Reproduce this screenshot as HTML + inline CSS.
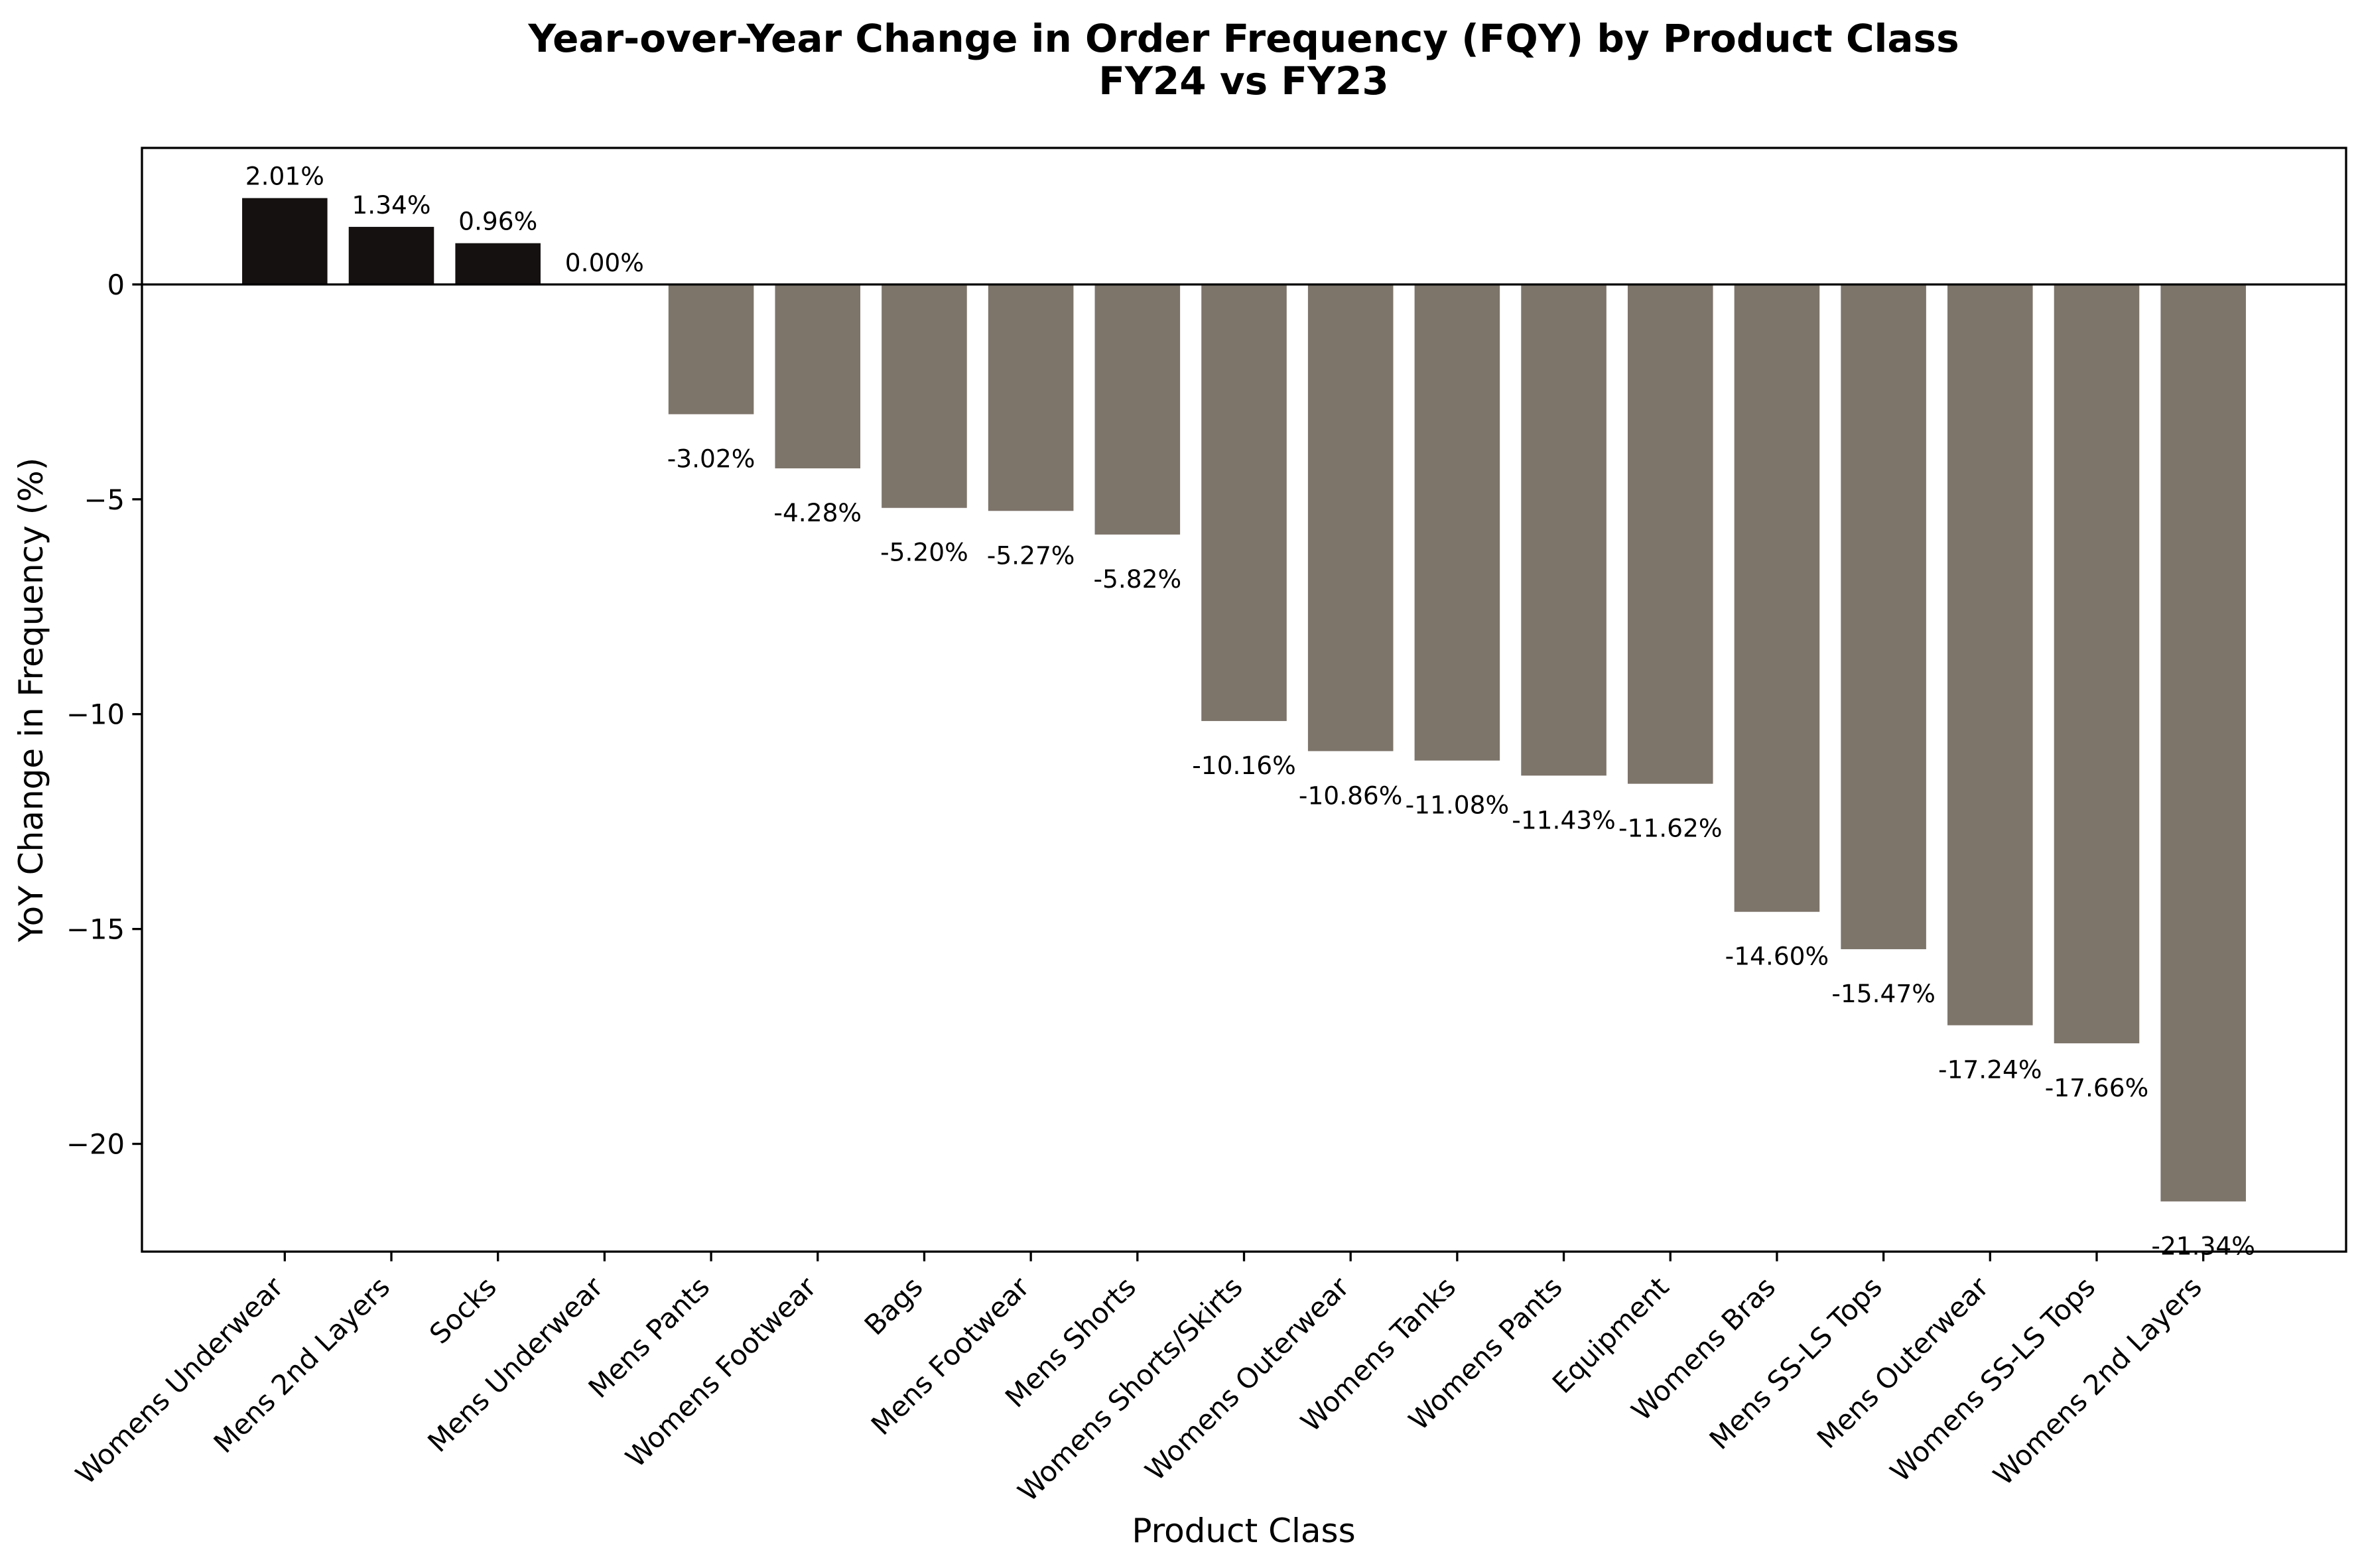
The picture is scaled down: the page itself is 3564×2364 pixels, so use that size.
<!DOCTYPE html>
<html><head><meta charset="utf-8"><style>
html,body{margin:0;padding:0;background:#fff}
svg{display:block;font-family:"DejaVu Sans","Liberation Sans",sans-serif}
</style></head><body>
<svg id="chart" width="3564" height="2364" viewBox="0 0 3564 2364" xmlns="http://www.w3.org/2000/svg">
<rect width="3564" height="2364" fill="#fff"/>
<text x="1875" y="78" font-size="58" font-weight="bold" text-anchor="middle">Year-over-Year Change in Order Frequency (FQY) by Product Class</text>
<text x="1875" y="142" font-size="58" font-weight="bold" text-anchor="middle">FY24 vs FY23</text>
<text transform="translate(64,1055) rotate(-90)" font-size="50" text-anchor="middle">YoY Change in Frequency (%)</text>
<text x="1875" y="2325" font-size="50" text-anchor="middle">Product Class</text>
<g id="plot"></g>
</svg>
<script>
const categories=["Womens Underwear","Mens 2nd Layers","Socks","Mens Underwear","Mens Pants","Womens Footwear","Bags","Mens Footwear","Mens Shorts","Womens Shorts/Skirts","Womens Outerwear","Womens Tanks","Womens Pants","Equipment","Womens Bras","Mens SS-LS Tops","Mens Outerwear","Womens SS-LS Tops","Womens 2nd Layers"];
const values=[2.01,1.34,0.96,0.00,-3.02,-4.28,-5.20,-5.27,-5.82,-10.16,-10.86,-11.08,-11.43,-11.62,-14.60,-15.47,-17.24,-17.66,-21.34];
const yTicks=[-20,-15,-10,-5,0];

const L=214,R=3537,T=223,B=1887;
const n=categories.length;
const vmin=Math.min(0,...values),vmax=Math.max(0,...values);
const ypad=(vmax-vmin)*0.05;
const y0=vmin-ypad,y1=vmax+ypad;
const x0=-0.4-0.05*(n-1+0.8),x1=n-1+0.4+0.05*(n-1+0.8);
const X=v=>L+(v-x0)/(x1-x0)*(R-L);
const Y=v=>T+(y1-v)/(y1-y0)*(B-T);
const NS="http://www.w3.org/2000/svg";
const g=document.getElementById('plot');
function mk(tag,attrs){const e=document.createElementNS(NS,tag);for(const k in attrs)e.setAttribute(k,attrs[k]);g.appendChild(e);return e;}
const bw=0.8*(R-L)/(x1-x0);
values.forEach((v,i)=>{
  const cx=X(i);
  const top=Math.min(Y(v),Y(0)),h=Math.abs(Y(v)-Y(0));
  const r=mk('rect',{x:cx-bw/2,y:top,width:bw,height:h,fill:v>0?'#141110':'#7d746a'});
  
  
  const t=mk('text',{x:cx,y:v>=0?Y(v)-20:Y(v)+80,'font-size':37.5,'text-anchor':'middle'});
  t.textContent=v.toFixed(2)+'%';
  
  
  const tk=mk('line',{x1:cx,x2:cx,y1:B,y2:B+14.6,stroke:'#000','stroke-width':3.3});
  
  
  const lb=mk('text',{transform:`translate(${cx-22},${B+34}) rotate(-45)`,'font-size':41.7,'text-anchor':'end','dominant-baseline':'hanging'});
  lb.textContent=categories[i];
  
  
});
yTicks.forEach(v=>{
  const tk=mk('line',{x1:L-14.6,x2:L,y1:Y(v),y2:Y(v),stroke:'#000','stroke-width':3.3});
  
  
  const t=mk('text',{x:L-26,y:Y(v)+15,'font-size':41.7,'text-anchor':'end'});
  t.textContent=v<0?'\u2212'+Math.abs(v):String(v);
  
  
});
const zl=mk('line',{x1:L,x2:R,y1:Y(0),y2:Y(0),stroke:'#000','stroke-width':3.3});


const fr=mk('rect',{x:L,y:T,width:R-L,height:B-T,fill:'none',stroke:'#000','stroke-width':3.3});


</script>
</body></html>
